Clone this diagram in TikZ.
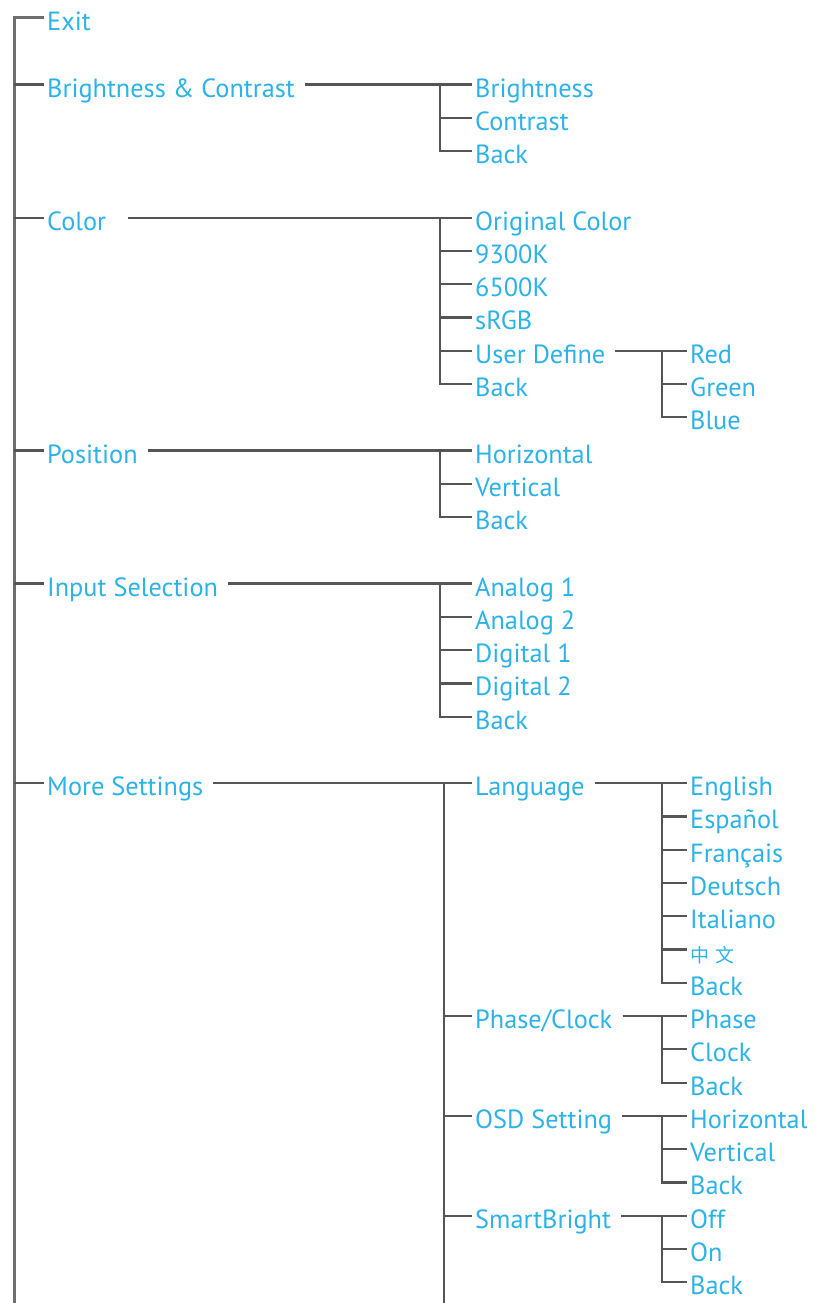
\documentclass[tikz,border=0pt]{standalone}
\usepackage{fontspec}
\setmainfont{PT Sans}
\newfontfamily\cjk{Noto Sans CJK SC}
\usetikzlibrary{positioning, calc}
\definecolor{OSDCyan}{RGB}{45, 178, 232}
\definecolor{OSDLine}{RGB}{85, 85, 85}
\tikzset{
  menuitem/.style={anchor=west, inner xsep=3pt, inner ysep=0pt,
    text height=27pt, text depth=2pt, text=OSDCyan,
    font=\fontsize{26.3}{28}\selectfont},
  branch/.style={draw=OSDLine, line width=2.2pt},
  trunk/.style={draw=OSDLine!85, line width=3pt},
  feed/.style={branch, shorten <=7pt}
}
\newcommand{\rowy}[1]{-18-33.27*(#1)}

\begin{document}
\begin{tikzpicture}[x=1pt, y=1pt]
  \useasboundingbox (0,0) rectangle (814,-1303);

  % main menu
  \node[menuitem] (exit)  at (44,{\rowy{0}})  {Exit};
  \node[menuitem] (bc)    at (44,{\rowy{2}})  {Brightness \& Contrast};
  \node[menuitem] (color) at (44,{\rowy{6}})  {Color};
  \node[menuitem] (pos)   at (44,{\rowy{13}}) {Position};
  \node[menuitem] (input) at (44,{\rowy{17}}) {Input Selection};
  \node[menuitem] (more)  at (44,{\rowy{23}}) {More Settings};

  \coordinate (trunkend) at (14,-1303);
  \draw[trunk] (trunkend) |- (exit.west);
  \foreach \n in {bc,color,pos,input,more}
    \draw[branch] (trunkend |- \n.west) -- (\n.west);

  % Brightness & Contrast
  \foreach \txt [count=\i] in {Brightness, Contrast, Back}
    \node[menuitem] (bc\i) at (472,{\rowy{1+\i}}) {\txt};
  \coordinate (bcbus) at (440,{\rowy{2}});
  \draw[feed] (bc.east) -- (bc1.west);
  \foreach \i in {1,...,3}
    \draw[branch] (bcbus) |- (bc\i.west);

  % Color
  \foreach \txt [count=\i] in {Original Color, 9300K, 6500K, sRGB, User Define, Back}
    \node[menuitem] (col\i) at (472,{\rowy{5+\i}}) {\txt};
  \coordinate (colbus) at (440,{\rowy{6}});
  \draw[feed, shorten <=19pt] (color.east) -- (col1.west);
  \foreach \i in {1,...,6}
    \draw[branch] (colbus) |- (col\i.west);

  \foreach \txt [count=\i] in {Red, Green, Blue}
    \node[menuitem] (usr\i) at (687,{\rowy{9+\i}}) {\txt};
  \coordinate (usrbus) at (662,{\rowy{10}});
  \draw[feed] (col5.east) -- (usr1.west);
  \foreach \i in {1,...,3}
    \draw[branch] (usrbus) |- (usr\i.west);

  % Position
  \foreach \txt [count=\i] in {Horizontal, Vertical, Back}
    \node[menuitem] (pos\i) at (472,{\rowy{12+\i}}) {\txt};
  \coordinate (posbus) at (440,{\rowy{13}});
  \draw[feed] (pos.east) -- (pos1.west);
  \foreach \i in {1,...,3}
    \draw[branch] (posbus) |- (pos\i.west);

  % Input Selection
  \foreach \txt [count=\i] in {Analog 1, Analog 2, Digital 1, Digital 2, Back}
    \node[menuitem] (in\i) at (472,{\rowy{16+\i}}) {\txt};
  \coordinate (inbus) at (440,{\rowy{17}});
  \draw[feed] (input.east) -- (in1.west);
  \foreach \i in {1,...,5}
    \draw[branch] (inbus) |- (in\i.west);

  % More Settings
  \node[menuitem] (lang)  at (472,{\rowy{23}}) {Language};
  \node[menuitem] (phase) at (472,{\rowy{30}}) {Phase/Clock};
  \node[menuitem] (osd)   at (472,{\rowy{33}}) {OSD Setting};
  \node[menuitem] (smart) at (472,{\rowy{36}}) {SmartBright};
  \coordinate (morebus) at (444,{\rowy{23}});
  \coordinate (moreend) at (444,-1303);
  \draw[feed] (more.east) -- (lang.west);
  \draw[branch] (morebus) -- (moreend);
  \foreach \n in {phase,osd,smart}
    \draw[branch] (morebus |- \n.west) -- (\n.west);

  \foreach \txt [count=\i] in {English, Español, Français, Deutsch, Italiano,
      {\cjk\fontsize{19}{20}\selectfont 中\hspace{6pt}文}, Back}
    \node[menuitem] (lng\i) at (687,{\rowy{22+\i}}) {\txt};
  \coordinate (lngbus) at (662,{\rowy{23}});
  \draw[feed] (lang.east) -- (lng1.west);
  \foreach \i in {1,...,7}
    \draw[branch] (lngbus) |- (lng\i.west);

  \foreach \txt [count=\i] in {Phase, Clock, Back}
    \node[menuitem] (ph\i) at (687,{\rowy{29+\i}}) {\txt};
  \coordinate (phbus) at (662,{\rowy{30}});
  \draw[feed] (phase.east) -- (ph1.west);
  \foreach \i in {1,...,3}
    \draw[branch] (phbus) |- (ph\i.west);

  \foreach \txt [count=\i] in {Horizontal, Vertical, Back}
    \node[menuitem] (os\i) at (687,{\rowy{32+\i}}) {\txt};
  \coordinate (osbus) at (662,{\rowy{33}});
  \draw[feed] (osd.east) -- (os1.west);
  \foreach \i in {1,...,3}
    \draw[branch] (osbus) |- (os\i.west);

  \foreach \txt [count=\i] in {Off, On, Back}
    \node[menuitem] (sb\i) at (687,{\rowy{35+\i}}) {\txt};
  \coordinate (sbbus) at (662,{\rowy{36}});
  \draw[feed] (smart.east) -- (sb1.west);
  \foreach \i in {1,...,3}
    \draw[branch] (sbbus) |- (sb\i.west);
\end{tikzpicture}
\end{document}
